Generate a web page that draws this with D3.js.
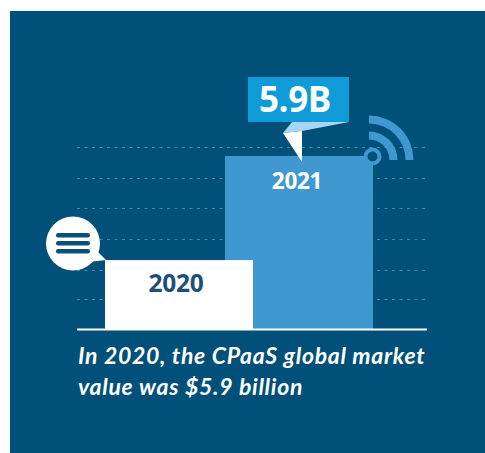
<!DOCTYPE html>
<html><head><meta charset="utf-8">
<script src="https://cdn.jsdelivr.net/npm/d3@7"></script>
<style>html,body{margin:0;padding:0;background:#fff}svg{display:block}</style>
</head><body><svg id="c" width="485" height="453"></svg>
<script>
const years = ["2020", "2021"];
const values = [2.35, 5.9];
const gridValues = [1.02, 2.01, 3.07, 4.13, 5.15, 6.2];
const valueLabel = "5.9B";
const captionLines = ["In 2020, the CPaaS global market", "value was $5.9 billion"];

const svg = d3.select("#c");
const y = d3.scaleLinear().domain([0, 5.9]).range([329, 156]);
const x = d3.scaleLinear().domain([0, 1]).range([105, 225]);
const barW = 148;
const bg = "#00507a", blue = "#4098d0", sky = "#0e9bd7";
const bold = "'Open Sans',sans-serif";

svg.append("rect").attr("x", 10).attr("y", 11).attr("width", 475).attr("height", 442).attr("fill", bg);

svg.append("g").selectAll("line").data(gridValues).join("line")
  .attr("x1", 77).attr("x2", 427)
  .attr("y1", d => Math.round(y(d)) + .5).attr("y2", d => Math.round(y(d)) + .5)
  .attr("stroke", "#3f8aa8").attr("stroke-width", 1).attr("stroke-dasharray", "3 4.5");

// wifi arcs
const arc = d3.arc().startAngle(0).endAngle(Math.PI / 2);
const wifi = svg.append("g").attr("transform", "translate(369,160)").attr("fill", blue);
wifi.append("path").attr("d", arc({innerRadius: 36.5, outerRadius: 44.5}));
wifi.append("path").attr("d", arc({innerRadius: 20.5, outerRadius: 28.5}));

// bars: the later year sits behind
const order = [1, 0];
svg.append("g").selectAll("rect").data(order).join("rect")
  .attr("x", i => x(i)).attr("width", barW)
  .attr("y", i => y(values[i])).attr("height", i => y(0) - y(values[i]))
  .attr("fill", i => i === 0 ? "#fff" : blue);

svg.append("circle").attr("cx", 372.5).attr("cy", 156.5).attr("r", 7).attr("fill", bg).attr("stroke", blue).attr("stroke-width", 4);

svg.append("g").selectAll("text").data(order).join("text")
  .attr("x", i => i === 0 ? 176 : 297)
  .attr("y", i => i === 0 ? 292 : 189)
  .attr("text-anchor", "middle")
  .attr("font-family", bold).attr("font-weight", 700)
  .attr("font-size", i => i === 0 ? 24.5 : 22.5)
  .attr("letter-spacing", -0.3)
  .attr("fill", i => i === 0 ? "#1d4f77" : "#fff")
  .text(i => years[i]);

// axis line
svg.append("line").attr("x1", 77).attr("x2", 427).attr("y1", y(0) + .5).attr("y2", y(0) + .5).attr("stroke", "#fff").attr("stroke-width", 2);

// value callout
svg.append("path").attr("d", d3.line()([[292,122],[349,122],[302,131],[283,133]])).attr("fill", "#a5d6f5");
svg.append("path").attr("d", d3.line()([[283,133],[302,131],[302,162]])).attr("fill", "#fff");
svg.append("rect").attr("x", 248).attr("y", 77).attr("width", 101).attr("height", 45).attr("fill", sky);
svg.append("text").attr("x", 259).attr("y", 112).attr("font-family", bold).attr("font-weight", 700)
  .attr("font-size", 35).attr("letter-spacing", -0.4).attr("fill", "#fff").text(valueLabel);

// speech bubble
svg.append("path").attr("d", d3.line()([[96,250],[106,260],[88,262]])).attr("fill", "#fff");
svg.append("circle").attr("cx", 73).attr("cy", 243.5).attr("r", 27).attr("fill", "#fff");
svg.append("g").selectAll("rect").data([235, 243, 251]).join("rect")
  .attr("x", 56).attr("y", d => d - 2).attr("width", 34).attr("height", 4.5).attr("rx", 2.2).attr("fill", "#0a4f78");

// caption
svg.append("g").selectAll("text").data(captionLines).join("text")
  .attr("x", 78).attr("y", (d, i) => 364 + i * 30.5)
  .attr("font-family", "Lato,sans-serif").attr("font-weight", 700).attr("font-style", "italic")
  .attr("font-size", 23).attr("letter-spacing", 0.7).attr("fill", "#fff").text(d => d);
</script></body></html>
